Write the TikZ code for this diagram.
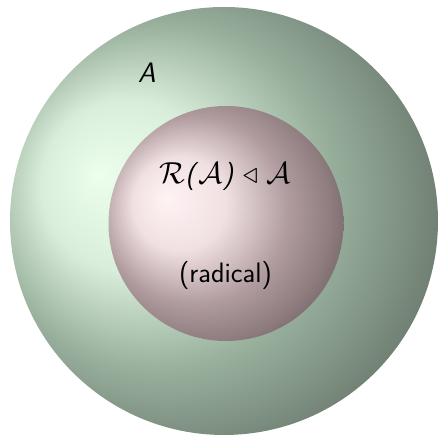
\documentclass[tikz,border=0pt]{standalone}
\usepackage{amssymb}
\usepackage{tikz}
\usetikzlibrary{positioning,shapes,calc}
\definecolor{algHi}{RGB}{236,254,237}
\definecolor{algLt}{RGB}{216,238,219}
\definecolor{algMid}{RGB}{154,177,158}
\definecolor{algSh}{RGB}{124,142,128}
\definecolor{algDk}{RGB}{98,112,101}
\definecolor{algEnd}{RGB}{86,98,89}
\definecolor{radHi}{RGB}{255,243,244}
\definecolor{radLt}{RGB}{240,224,226}
\definecolor{radMid}{RGB}{176,156,159}
\definecolor{radSh}{RGB}{142,124,127}
\definecolor{radDk}{RGB}{106,92,94}
\definecolor{radEnd}{RGB}{90,78,80}
% edge of a shaded ball sits at about 25bp
\pgfdeclareradialshading{algball}{\pgfpoint{-15bp}{5.5bp}}{%
  color(0bp)=(algHi); color(10bp)=(algLt); color(20bp)=(algMid);
  color(27bp)=(algSh); color(33bp)=(algDk); color(42bp)=(algEnd)}
\pgfdeclareradialshading{radball}{\pgfpoint{-13bp}{5.5bp}}{%
  color(0bp)=(radHi); color(10bp)=(radLt); color(20bp)=(radMid);
  color(27bp)=(radSh); color(33bp)=(radDk); color(42bp)=(radEnd)}
\newcommand{\ideal}{\mathrel{\triangleleft}}

\begin{document}
\begin{tikzpicture}[
    ballnode/.style={circle, inner sep=0pt, draw=none},
    lbl/.style={font=\sffamily\fontsize{16}{19}\selectfont, inner sep=1pt}]
    \useasboundingbox (0,0) rectangle (8.8,8.76);
    \node[ballnode, shading=algball, minimum size=8.56cm] (alg) at (4.48,4.34) {};
    \node[ballnode, shading=radball, minimum size=4.70cm] (rad) at (4.52,4.29) {};
    \node[lbl] (alglabel) at (2.94,7.31) {\textit{A}};
    \node[lbl] (radlabel) at (4.50,5.24) {$\mathcal{R}\textsf{\textit{(}}\mathcal{A}\textsf{\textit{)}}\ideal\mathcal{A}$};
    \node[lbl] (radname) at (4.51,3.26) {(radical)};
\end{tikzpicture}
\end{document}
